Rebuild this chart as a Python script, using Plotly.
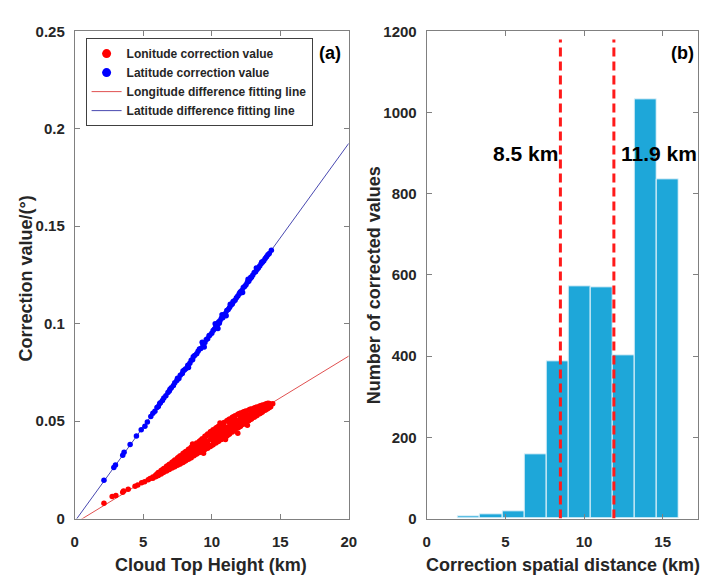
import plotly.graph_objects as go

# ---------------- Panel (a) data ----------------
# Latitude correction values (blue)
lat_x = [2.13, 2.85, 2.97, 3.5, 3.6, 4.04, 4.5, 4.85, 5.12, 5.3,
         5.55, 5.7, 5.85, 6.0, 6.1, 6.25, 6.4, 6.5, 6.65, 6.8, 6.9, 7.05, 7.2, 7.3,
         7.45, 7.6, 7.7, 7.85, 8.0, 8.1, 8.25, 8.4, 8.5, 8.6, 8.75, 8.9, 9.0, 9.1,
         9.2, 9.35, 9.5, 9.6, 9.7, 9.85, 10.0, 10.1, 10.2, 10.3, 10.4, 10.5, 10.6,
         10.7, 10.8, 10.9, 11.0, 11.1, 11.2, 11.3, 11.4, 11.5, 11.6, 11.7, 11.8,
         11.9, 12.0, 12.1, 12.2, 12.3, 12.4, 12.5, 12.6, 12.7, 12.8, 12.9, 13.0,
         13.1, 13.2, 13.3, 13.4, 13.5, 13.6, 13.7, 13.8, 13.9, 14.0, 14.1, 14.2,
         14.35, 9.3, 9.45, 10.25, 10.45, 11.35, 12.25, 8.3, 7.5, 12.65, 13.25,
         10.75, 11.05, 6.2, 6.95, 7.9, 8.65, 9.8, 10.55, 11.55, 12.05, 12.85, 13.65]
lat_y = [0.0196, 0.0262, 0.0274, 0.0325, 0.0340, 0.0380, 0.0423, 0.0455, 0.0473, 0.0495,
         0.0523, 0.0540, 0.0551, 0.0570, 0.0575, 0.0594, 0.0605, 0.0618, 0.0630, 0.0646,
         0.0654, 0.0671, 0.0682, 0.0696, 0.0708, 0.0719, 0.0735, 0.0744, 0.0762, 0.0768,
         0.0786, 0.0797, 0.0812, 0.0815, 0.0836, 0.0846, 0.0858, 0.0870, 0.0873, 0.0893,
         0.0903, 0.0918, 0.0922, 0.0940, 0.0950, 0.0965, 0.0972, 0.0985, 0.0990, 0.1008,
         0.1015, 0.1028, 0.1030, 0.1045, 0.1052, 0.1068, 0.1072, 0.1083, 0.1094, 0.1101,
         0.1115, 0.1120, 0.1133, 0.1142, 0.1152, 0.1163, 0.1170, 0.1185, 0.1190, 0.1200,
         0.1212, 0.1218, 0.1230, 0.1238, 0.1250, 0.1262, 0.1266, 0.1278, 0.1286, 0.1296,
         0.1307, 0.1315, 0.1323, 0.1334, 0.1343, 0.1354, 0.1360, 0.1376, 0.0905, 0.0880,
         0.1000, 0.0975, 0.1100, 0.1160, 0.0775, 0.0720, 0.1228, 0.1285, 0.1045, 0.1040,
         0.0590, 0.0663, 0.0757, 0.0830, 0.0938, 0.1002, 0.1112, 0.1158, 0.1238, 0.1316]

# Longitude correction values (red): rows of (height, values at that height)
lon_rows = [
    (2.13, [0.0078]), (2.73, [0.0113]), (3.0, [0.0118]), (3.5, [0.0135]),
    (3.56, [0.0141]), (3.9, [0.0150]), (4.4, [0.0166]), (4.6, [0.0172]),
    (4.88, [0.0183]), (5.1, [0.0188]), (5.36, [0.0199]), (5.5, [0.0205]),
    (5.7, [0.0206, 0.0213]),
    (5.9, [0.0214, 0.0222]),
    (6.0, [0.0219, 0.0228]),
    (6.1, [0.0221, 0.0229, 0.0236]),
    (6.3, [0.0229, 0.0238, 0.0246]),
    (6.4, [0.0235, 0.0250]),
    (6.5, [0.0237, 0.0248, 0.0257, 0.0243]),
    (6.7, [0.0244, 0.0256, 0.0268, 0.0250]),
    (6.8, [0.0251, 0.0271, 0.0262]),
    (6.9, [0.0252, 0.0266, 0.0278, 0.0259]),
    (7.1, [0.0259, 0.0274, 0.0289, 0.0282]),
    (7.2, [0.0265, 0.0293, 0.0280]),
    (7.3, [0.0266, 0.0284, 0.0300, 0.0276]),
    (7.5, [0.0273, 0.0292, 0.0311, 0.0300]),
    (7.6, [0.0280, 0.0315, 0.0299]),
    (7.7, [0.0280, 0.0302, 0.0322, 0.0292]),
    (7.9, [0.0287, 0.0310, 0.0333, 0.0320]),
    (8.0, [0.0294, 0.0338, 0.0318]),
    (8.1, [0.0296, 0.0320, 0.0344, 0.0308]),
    (8.3, [0.0304, 0.0330, 0.0356, 0.0342]),
    (8.4, [0.0311, 0.0357, 0.0336]),
    (8.5, [0.0312, 0.0339, 0.0366, 0.0325]),
    (8.6, [0.0382]),
    (8.7, [0.0322, 0.0349, 0.0376, 0.0362]),
    (8.8, [0.0330, 0.0380, 0.0352]),
    (8.9, [0.0331, 0.0359, 0.0387, 0.0345]),
    (9.1, [0.0339, 0.0368, 0.0397, 0.0382]),
    (9.2, [0.0346, 0.0401, 0.0372, 0.0390]),
    (9.3, [0.0347, 0.0378, 0.0409, 0.0362]),
    (9.4, [0.0335]),
    (9.5, [0.0354, 0.0388, 0.0422, 0.0405]),
    (9.6, [0.0360, 0.0425, 0.0395, 0.0373]),
    (9.7, [0.0361, 0.0397, 0.0433, 0.0380]),
    (9.9, [0.0369, 0.0407, 0.0445, 0.0426]),
    (10.0, [0.0376, 0.0448, 0.0410, 0.0428]),
    (10.1, [0.0378, 0.0417, 0.0456, 0.0398, 0.0437]),
    (10.3, [0.0387, 0.0426, 0.0465, 0.0445]),
    (10.4, [0.0394, 0.0468, 0.0430, 0.0412]),
    (10.5, [0.0396, 0.0435, 0.0474, 0.0415, 0.0455]),
    (10.6, [0.0490]),
    (10.7, [0.0406, 0.0445, 0.0484, 0.0425]),
    (10.8, [0.0411, 0.0488, 0.0452, 0.0468]),
    (10.9, [0.0415, 0.0454, 0.0493, 0.0474, 0.0434]),
    (11.0, [0.0405]),
    (11.1, [0.0424, 0.0463, 0.0502, 0.0443]),
    (11.2, [0.0430, 0.0506, 0.0470, 0.0449]),
    (11.3, [0.0434, 0.0472, 0.0510, 0.0491, 0.0453]),
    (11.5, [0.0444, 0.0482, 0.0519, 0.0463]),
    (11.6, [0.0450, 0.0522, 0.0488, 0.0505]),
    (11.7, [0.0454, 0.0491, 0.0527, 0.0510, 0.0472]),
    (11.9, [0.0464, 0.0500, 0.0535, 0.0482, 0.0437]),
    (12.0, [0.0470, 0.0538, 0.0505, 0.0486]),
    (12.1, [0.0474, 0.0508, 0.0541, 0.0524, 0.0491]),
    (12.3, [0.0484, 0.0516, 0.0547, 0.0500]),
    (12.4, [0.0490, 0.0549, 0.0520, 0.0534]),
    (12.5, [0.0493, 0.0523, 0.0552, 0.0538, 0.0508]),
    (12.6, [0.0478]),
    (12.7, [0.0502, 0.0530, 0.0557, 0.0516]),
    (12.8, [0.0508, 0.0560, 0.0532]),
    (12.9, [0.0511, 0.0537, 0.0562, 0.0550]),
    (13.1, [0.0520, 0.0544, 0.0567, 0.0532]),
    (13.2, [0.0526, 0.0570, 0.0548]),
    (13.3, [0.0529, 0.0551, 0.0572, 0.0562]),
    (13.5, [0.0538, 0.0558, 0.0577, 0.0548]),
    (13.6, [0.0543, 0.0579, 0.0562]),
    (13.7, [0.0547, 0.0565, 0.0582]),
    (13.9, [0.0555, 0.0571, 0.0586]),
    (14.0, [0.0561, 0.0589, 0.0575]),
    (14.1, [0.0564, 0.0578, 0.0591]),
    (14.2, [0.0570, 0.0590]),
    (14.3, [0.0573, 0.0585]),
    (14.45, [0.0589]),
]

# Fitting lines: slope, intercept, and x extent
lon_fit = (0.00429, -0.00245)
lat_fit = (0.0097, -0.0015)
fit_x = [0, 20]

# ---------------- Panel (b) data ----------------
bin_edges = [2.0, 3.4, 4.8, 6.2, 7.6, 9.0, 10.4, 11.8, 13.2, 14.6, 16.0]
bin_counts = [5, 10, 17, 158, 387, 571, 570, 402, 1032, 835]
marker_lines = [8.5, 11.9]
marker_labels = ["8.5 km", "11.9 km"]

# ---------------- Build figure ----------------
lon_x = [r[0] for r in lon_rows for _ in r[1]]
lon_y = [v for r in lon_rows for v in r[1]]

FONT = "Liberation Sans, Arial, Helvetica, sans-serif"
TXT = "#262626"
AX = "#808080"
RED = "#ff0000"
BLUE = "#0000ff"

fig = go.Figure()

# legend-only entries for the point series (bigger symbols, as in the reference)
fig.add_trace(go.Scatter(x=[None], y=[None], mode="markers", marker=dict(color=RED, size=9),
                         name="Lonitude correction value", legendrank=1, xaxis="x", yaxis="y"))
fig.add_trace(go.Scatter(x=[None], y=[None], mode="markers", marker=dict(color=BLUE, size=9),
                         name="Latitude correction value", legendrank=2, xaxis="x", yaxis="y"))

for (m, b), col, name, rank in [(lon_fit, "#e05050", "Longitude difference fitting line", 3),
                                 (lat_fit, "#4848b0", "Latitude difference fitting line", 4)]:
    fig.add_trace(go.Scatter(x=fit_x, y=[m * v + b for v in fit_x], mode="lines",
                             line=dict(color=col, width=1), name=name, legendrank=rank,
                             xaxis="x", yaxis="y"))

fig.add_trace(go.Scatter(x=lon_x, y=lon_y, mode="markers",
                         marker=dict(color=RED, size=5.5), showlegend=False,
                         name="Lonitude correction value", xaxis="x", yaxis="y"))
fig.add_trace(go.Scatter(x=lat_x, y=lat_y, mode="markers",
                         marker=dict(color=BLUE, size=5.5), showlegend=False,
                         name="Latitude correction value", xaxis="x", yaxis="y"))

centers = [(bin_edges[i] + bin_edges[i + 1]) / 2 for i in range(len(bin_counts))]
widths = [bin_edges[i + 1] - bin_edges[i] for i in range(len(bin_counts))]
fig.add_trace(go.Bar(x=centers, y=bin_counts, width=widths,
                     marker=dict(color="rgb(30,167,217)", line=dict(color="#e8f4fa", width=1)),
                     showlegend=False, xaxis="x2", yaxis="y2"))

for xv in marker_lines:
    fig.add_shape(type="line", xref="x2", yref="y2", x0=xv, x1=xv, y0=0, y1=1180,
                  line=dict(color="#ff1a1a", width=3, dash="9px,5px"))

fig.add_annotation(xref="x2", yref="y2", x=marker_lines[0] - 0.05, y=900,
                   text="<b>" + marker_labels[0] + "</b>", showarrow=False,
                   xanchor="right", yanchor="middle", font=dict(family=FONT, size=21, color="#000"))
fig.add_annotation(xref="x2", yref="y2", x=marker_lines[1] + 0.3, y=900,
                   text="<b>" + marker_labels[1] + "</b>", showarrow=False,
                   xanchor="left", yanchor="middle", font=dict(family=FONT, size=21, color="#000"))

# panel tags
fig.add_annotation(xref="paper", yref="paper", x=332 / 708, y=1 - 45 / 576, text="<b>(a)</b>",
                   showarrow=False, xanchor="center", yanchor="middle",
                   font=dict(family=FONT, size=18, color="#000"))
fig.add_annotation(xref="paper", yref="paper", x=690 / 708, y=1 - 45 / 576, text="<b>(b)</b>",
                   showarrow=False, xanchor="center", yanchor="middle",
                   font=dict(family=FONT, size=18, color="#000"))

# axis titles
title_font = dict(family=FONT, size=18, color=TXT)
fig.add_annotation(xref="paper", yref="paper", x=211 / 708, y=1 - 573 / 576,
                   text="<b>Cloud Top Height (km)</b>", showarrow=False,
                   xanchor="center", yanchor="middle", font=title_font)
fig.add_annotation(xref="paper", yref="paper", x=569 / 708, y=1 - 573 / 576,
                   text="<b>Correction spatial distance (km)</b>", showarrow=False,
                   xanchor="center", yanchor="middle", font=title_font)
fig.add_annotation(xref="paper", yref="paper", x=22 / 708, y=1 - 278 / 576,
                   text="<b>Correction value/(°)</b>", showarrow=False, textangle=-90,
                   xanchor="center", yanchor="middle", font=title_font)
fig.add_annotation(xref="paper", yref="paper", x=376 / 708, y=1 - 285 / 576,
                   text="<b>Number of corrected values</b>", showarrow=False, textangle=-90,
                   xanchor="center", yanchor="middle", font=title_font)

tickfont = dict(family=FONT, size=15, color=TXT, weight="bold")
common = dict(showline=True, linecolor=AX, linewidth=1, mirror="ticks", ticks="inside",
              ticklen=5, tickcolor=AX, showgrid=False, zeroline=False, tickfont=tickfont)
ydom = [51 / 576, 553 / 576]

fig.update_layout(
    width=708, height=576, margin=dict(l=0, r=0, t=0, b=0),
    paper_bgcolor="white", plot_bgcolor="white",
    font=dict(family=FONT, color=TXT),
    xaxis=dict(domain=[72 / 708, 350.7 / 708], range=[0, 20], tickvals=[0, 5, 10, 15, 20],
               anchor="y", ticklabelstandoff=9, **common),
    yaxis=dict(domain=ydom, range=[0, 0.25], tickvals=[0, 0.05, 0.1, 0.15, 0.2, 0.25],
               ticktext=["0", "0.05", "0.1", "0.15", "0.2", "0.25"], anchor="x",
               ticklabelstandoff=6, **common),
    xaxis2=dict(domain=[430 / 708, 706 / 708], range=[0, 17.25], tickvals=[0, 5, 10, 15],
                anchor="y2", ticklabelstandoff=9, **common),
    yaxis2=dict(domain=ydom, range=[0, 1200], tickvals=[0, 200, 400, 600, 800, 1000, 1200],
                anchor="x2", ticklabelstandoff=6, **common),
    showlegend=True,
    legend=dict(x=83 / 708, y=1 - 30 / 576, xanchor="left", yanchor="top",
                bgcolor="white", bordercolor="#404040", borderwidth=1,
                font=dict(family=FONT, size=12, color=TXT, weight="bold"),
                tracegroupgap=0),
    bargap=0,
)

fig.write_html("out.html")
